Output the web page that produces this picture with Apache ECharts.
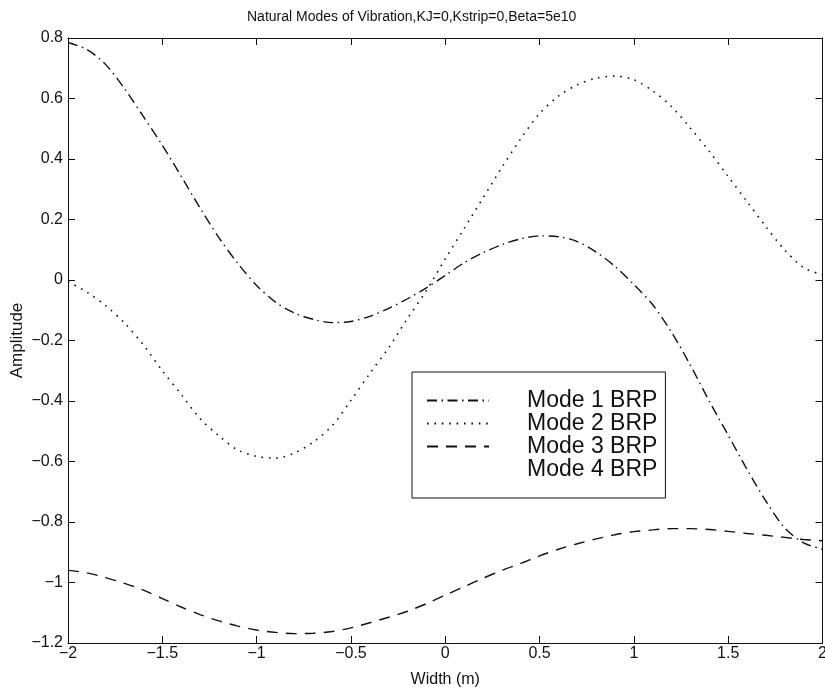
<!DOCTYPE html>
<html>
<head>
<meta charset="utf-8">
<script src="https://cdn.jsdelivr.net/npm/echarts@6/dist/echarts.min.js"></script>
<style>html,body{margin:0;padding:0;background:#fff;}#c{width:825px;height:693px;}</style>
</head>
<body>
<div id="c"></div>
<script>
// Shared x positions (Width, m)
var widthX = [-2.0,-1.9,-1.8,-1.7,-1.6,-1.5,-1.4,-1.3,-1.2,-1.1,-1.0,-0.9,-0.8,-0.7,-0.6,-0.5,-0.4,-0.3,-0.2,-0.1,0.0,
              0.1,0.2,0.3,0.4,0.5,0.6,0.7,0.8,0.9,1.0,1.1,1.2,1.3,1.4,1.5,1.6,1.7,1.8,1.9,2.0];
// Amplitudes
var mode1 = [0.785,0.762,0.712,0.632,0.540,0.445,0.343,0.238,0.140,0.055,-0.018,-0.073,-0.109,-0.130,-0.141,-0.137,-0.120,-0.094,-0.062,-0.026,0.015,
             0.057,0.090,0.117,0.136,0.146,0.143,0.127,0.092,0.045,-0.015,-0.082,-0.173,-0.282,-0.401,-0.513,-0.626,-0.731,-0.820,-0.869,-0.890];
var mode2 = [-0.005,-0.040,-0.085,-0.142,-0.215,-0.300,-0.378,-0.458,-0.515,-0.562,-0.583,-0.589,-0.572,-0.536,-0.482,-0.398,-0.309,-0.224,-0.127,-0.035,0.070,
             0.170,0.271,0.372,0.467,0.550,0.608,0.645,0.667,0.674,0.662,0.625,0.573,0.502,0.425,0.342,0.259,0.176,0.099,0.041,0.017];
var mode3 = [-0.960,-0.968,-0.984,-1.003,-1.025,-1.053,-1.081,-1.106,-1.127,-1.144,-1.157,-1.165,-1.169,-1.168,-1.162,-1.150,-1.133,-1.115,-1.095,-1.070,-1.042,
             -1.014,-0.986,-0.960,-0.937,-0.912,-0.890,-0.872,-0.856,-0.842,-0.832,-0.826,-0.822,-0.822,-0.825,-0.831,-0.838,-0.844,-0.851,-0.858,-0.862];
var mode4 = [];
var seriesNames = ['Mode 1 BRP','Mode 2 BRP','Mode 3 BRP','Mode 4 BRP'];
var titleText = 'Natural Modes of Vibration,KJ=0,Kstrip=0,Beta=5e10';
var xName = 'Width (m)';
var yName = 'Amplitude';

function pairs(xs, ys){ var out=[]; for (var i=0;i<ys.length;i++) out.push([xs[i], ys[i]]); return out; }
function fmt(v){ return String(parseFloat(Number(v).toFixed(2))).replace('-', '\u2212'); }

var FONT = 'Liberation Sans';
var INK = '#111';
var chart = echarts.init(document.getElementById('c'), null, {renderer:'canvas'});
var axisCommon = {
  axisLine:{show:true, onZero:false, lineStyle:{color:INK, width:1}},
  axisTick:{show:true, inside:true, length:7, lineStyle:{color:INK, width:1}},
  splitLine:{show:false}
};
chart.setOption({
  animation:false,
  backgroundColor:'#fff',
  title:{text:titleText, left:242, top:5, textStyle:{fontFamily:FONT, fontSize:14, fontWeight:'normal', color:INK}},
  grid:{left:68, right:2.5, top:38, bottom:50, containLabel:false, outerBoundsMode:'none'},
  xAxis:[
    Object.assign({type:'value', min:-2, max:2, interval:0.5, position:'bottom',
      name:xName, nameLocation:'middle', nameGap:29, nameMoveOverlap:false,
      nameTextStyle:{fontFamily:FONT, fontSize:16, color:INK},
      axisLabel:{fontFamily:FONT, fontSize:16, color:INK, margin:3, formatter:fmt, hideOverlap:false}}, axisCommon),
    Object.assign({type:'value', min:-2, max:2, interval:0.5, position:'top',
      axisLabel:{show:false}}, axisCommon)
  ],
  yAxis:[
    Object.assign({type:'value', min:-1.2, max:0.8, interval:0.2, position:'left',
      name:yName, nameLocation:'middle', nameGap:42, nameMoveOverlap:false,
      nameTextStyle:{fontFamily:FONT, fontSize:17, color:INK},
      axisLabel:{fontFamily:FONT, fontSize:16, color:INK, margin:5, formatter:fmt, hideOverlap:false}}, axisCommon),
    Object.assign({type:'value', min:-1.2, max:0.8, interval:0.2, position:'right',
      axisLabel:{show:false}}, axisCommon)
  ],
  legend:{
    orient:'vertical', left:412, top:372, selectedMode:false,
    backgroundColor:'#fff', borderColor:INK, borderWidth:1, borderRadius:0,
    padding:[17,8,17,14], itemGap:0, itemWidth:62, itemHeight:14,
    itemStyle:{opacity:0},
    textStyle:{fontFamily:FONT, fontSize:23, lineHeight:22, color:INK, padding:[0,0,0,33]},
    data:seriesNames
  },
  series:[
    {name:seriesNames[0], type:'line', data:pairs(widthX, mode1), smooth:0.3, symbol:'none', silent:true,
     lineStyle:{color:INK, width:1.4, type:[10,4.5,1.5,4.5]}, itemStyle:{color:INK}},
    {name:seriesNames[1], type:'line', data:pairs(widthX, mode2), smooth:0.3, symbol:'none', silent:true,
     lineStyle:{color:INK, width:1.6, type:[1.6,5.8]}, itemStyle:{color:INK}},
    {name:seriesNames[2], type:'line', data:pairs(widthX, mode3), smooth:0.3, symbol:'none', silent:true,
     lineStyle:{color:INK, width:1.4, type:[11,8]}, itemStyle:{color:INK}},
    {name:seriesNames[3], type:'line', data:mode4, symbol:'none', silent:true,
     lineStyle:{color:INK, width:1, opacity:0}, itemStyle:{color:INK, opacity:0}}
  ]
});
</script>
</body>
</html>
